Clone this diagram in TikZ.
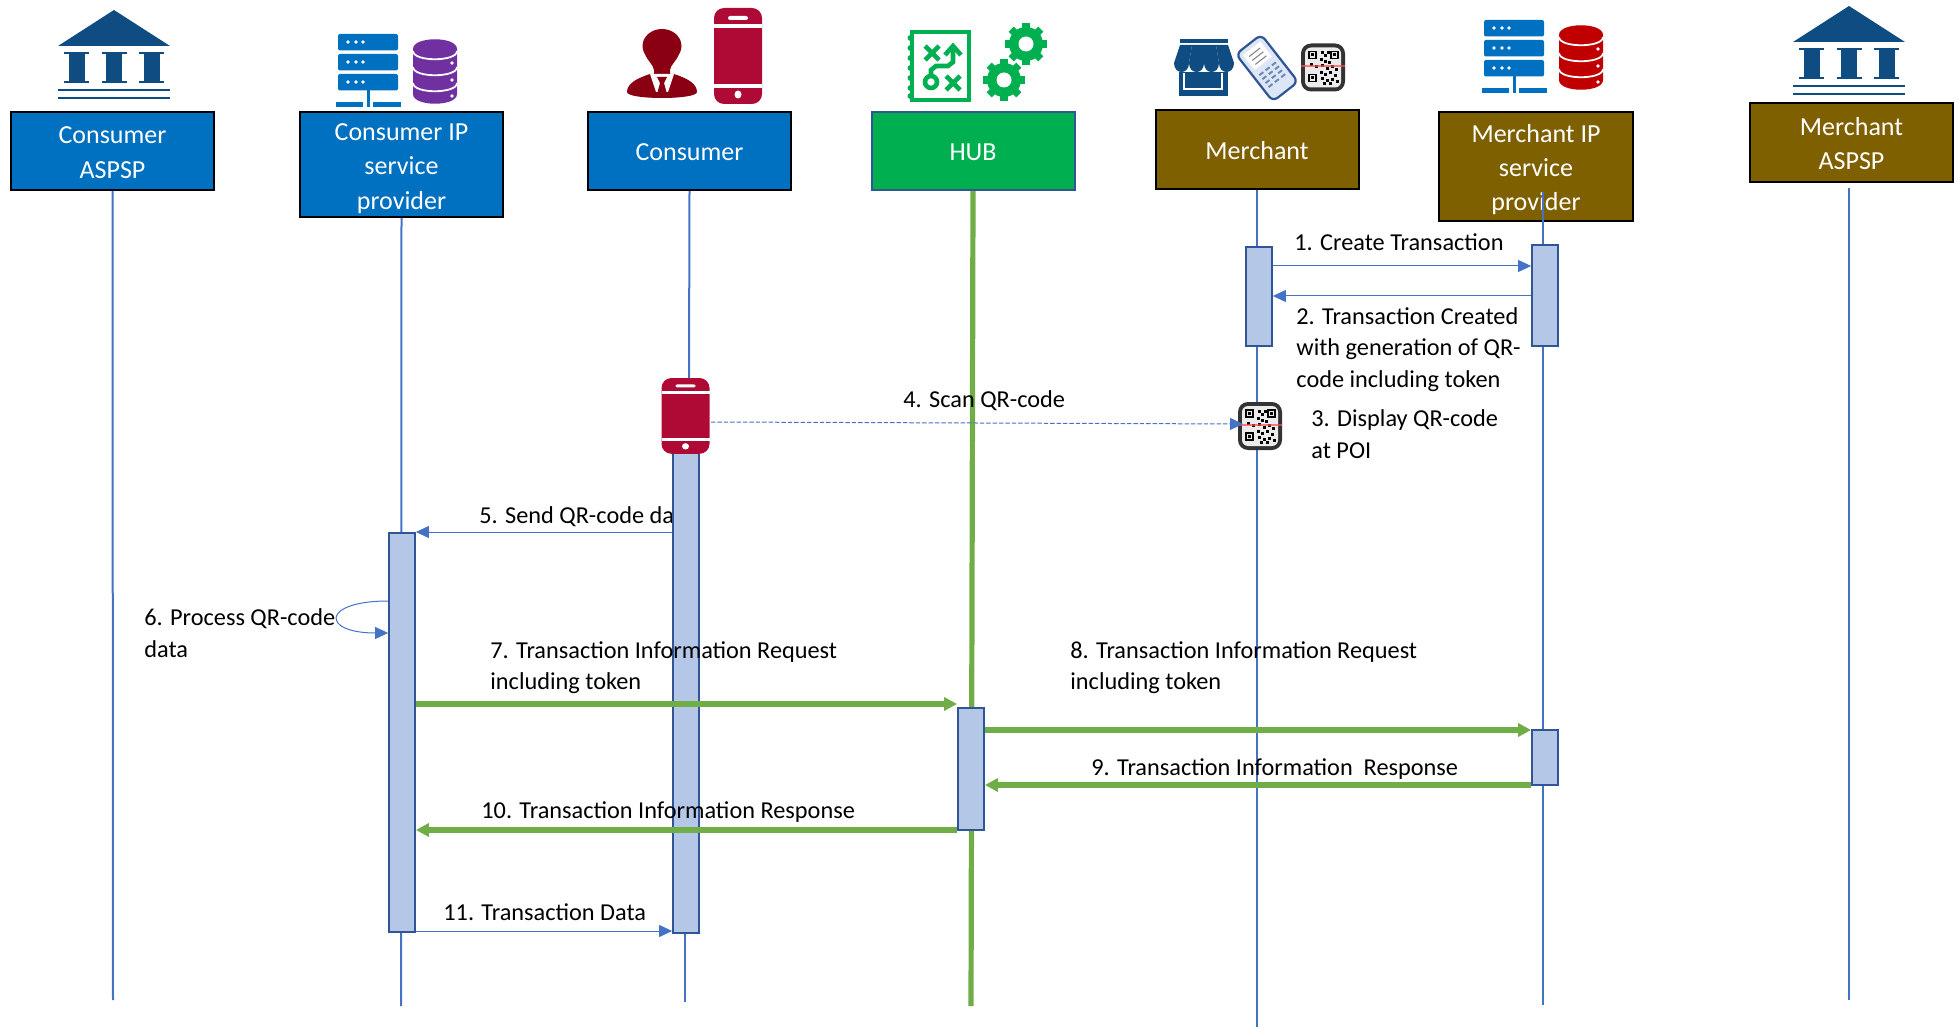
\documentclass[tikz,border=0pt]{standalone}
\usepackage{fontspec}
\setmainfont{Carlito}
\usetikzlibrary{arrows.meta}
\definecolor{boxblue}{HTML}{0070C0}
\definecolor{boxgreen}{HTML}{00B050}
\definecolor{boxbrown}{HTML}{7F6000}
\definecolor{linkblue}{HTML}{4472C4}
\definecolor{linkgreen}{HTML}{70AD47}
\definecolor{barfill}{HTML}{B4C7E7}
\definecolor{bardraw}{HTML}{2F5597}
\definecolor{bankblue}{HTML}{0F4C81}
\definecolor{phonered}{HTML}{AE0A35}
\definecolor{personred}{HTML}{8A0012}
\definecolor{dbpurple}{HTML}{7030A0}
\definecolor{dbred}{HTML}{C00000}
\tikzset{
	party/.style={rectangle,draw=black,line width=1pt,minimum width=101.5pt,inner ysep=0pt,text=white,align=center,
		font=\fontsize{13}{17.2}\selectfont},
	lifeline/.style={draw=linkblue,line width=1pt},
	hubline/.style={draw=linkgreen,line width=2.6pt},
	activation/.style={rectangle,draw=bardraw,line width=.9pt,fill=barfill,minimum width=13pt},
	msgthin/.style={draw=linkblue,line width=.5pt,-{Triangle[length=6.5pt,width=6pt]}},
	msgthick/.style={draw=linkgreen,line width=2.6pt,-{Triangle[length=6.5pt,width=6.5pt]}},
	msgtext/.style={anchor=west,align=left,inner sep=0pt,font=\fontsize{12.15}{15.7}\selectfont},
	pics/bank/.style={code={
		\fill[bankblue] (-56,36) -- (0,0) -- (56,36) -- cycle;
		\foreach \cx in {-37.5,0,37.5}{
			\fill[bankblue] (\cx-12.5,42) rectangle (\cx+12.5,44);
			\fill[bankblue] (\cx-8,44) rectangle (\cx+8,71);
			\fill[bankblue] (\cx-12.5,71) rectangle (\cx+12.5,73);
		}
		\fill[bankblue] (-56,79) rectangle (56,81);
		\fill[bankblue] (-56,87) rectangle (56,89);
	}},
	pics/serverdb/.style={code={
		\foreach \uy in {0,20,40}{
			\fill[boxblue,rounded corners=1pt] (0,\uy) rectangle (60,\uy+16.5);
			\foreach \ux in {10,18,25}
				\fill[white] (\ux,\uy+8) circle (1.8);
		}
		\fill[boxblue] (28.5,56) rectangle (31.5,73);
		\fill[boxblue] (-2,68) rectangle (25,73);
		\fill[boxblue] (35,68) rectangle (63,73);
		\fill[#1] (75,15) -- (75,60) .. controls (75,73) and (119,73) .. (119,60) -- (119,15)
			.. controls (119,2) and (75,2) .. (75,15) -- cycle;
		\draw[white,line width=.9pt] (75,17) .. controls (75,28) and (119,28) .. (119,17);
		\draw[white,line width=.9pt] (75,33) .. controls (75,44) and (119,44) .. (119,33);
		\draw[white,line width=.9pt] (75,49) .. controls (75,60) and (119,60) .. (119,49);
		\foreach \uy in {29,46,62}
			\fill[white] (114,\uy) circle (1.8);
	}},
	pics/phone/.style={code={
		\fill[phonered,rounded corners=5pt] (-24,0) rectangle (24,96);
		\fill[white] (-24,16) rectangle (24,20);
		\fill[white] (-24,76) rectangle (24,80);
		\fill[white,rounded corners=1pt] (-10,8) rectangle (10,12);
		\fill[white] (0,86.5) ellipse (3.5 and 4);
	}},
	pics/person/.style={code={
		\fill[personred] (0,16) ellipse (19.5 and 17);
		\fill[personred] (-17,24) .. controls (-14,32) and (-9,34) .. (-8,40) -- (-8,46) -- (8,46)
			-- (8,40) .. controls (9,34) and (14,32) .. (17,24) -- cycle;
		\fill[personred] (-12,44) .. controls (-24,48) and (-35,53) .. (-35,62)
			.. controls (-35,70) and (35,70) .. (35,62) .. controls (35,53) and (24,48) .. (12,44) -- cycle;
		\fill[white] (-12,44) -- (12,44) -- (6,62) -- (-6,62) -- cycle;
		\fill[personred] (-5,47) -- (5,47) -- (2,53) -- (5,64) -- (-5,64) -- (-2,53) -- cycle;
	}},
	pics/planner/.style={code={
		\draw[boxgreen,line width=2.2pt] (0,0) rectangle (57,68);
		\foreach \uy in {6,16,26,36,46,56,64}
			\fill[boxgreen] (-1.5,\uy) circle (3);
		\draw[boxgreen,line width=2.3pt] (13,14) -- (27,28) (27,14) -- (13,28);
		\draw[boxgreen,line width=2.3pt] (34,44) -- (48,58) (48,44) -- (34,58);
		\draw[boxgreen,line width=2.3pt] (19,50) circle (6);
		\draw[boxgreen,line width=2.3pt] (19,44) -- (19,38) -- (24,34) -- (36,34) -- (41,30) -- (41,16);
		\draw[boxgreen,line width=2.3pt] (33,23) -- (41,14) -- (49,23);
	}},
	pics/gear/.style={code={
		\fill[boxgreen] (0,0) circle (17);
		\foreach \ang in {0,45,...,315}
			\draw[boxgreen,line width=3.6pt] (0,0) -- (\ang:21);
		\fill[white] (0,0) circle (7.5);
	}},
	pics/shop/.style={code={
		\fill[bankblue] (6,0) rectangle (54,4);
		\foreach \ta/\tb/\tc/\td in {6/0/15/18,18/15/30/30,30/30/45/42,42/45/60/54}
			\fill[bankblue] (\ta,6) -- (\tb,24) .. controls (\tb,36) and (\tc,36) .. (\tc,24) -- (\td,6) -- cycle;
		\fill[bankblue] (5,33) rectangle (54,57);
		\draw[white,line width=1pt] (10,34) -- (10,50) -- (48,50) -- (48,34);
	}},
	pics/terminal/.style={code={
		\draw[bardraw,fill=barfill!45,rounded corners=3pt,line width=1.1pt] (-16,-30) rectangle (16,30);
		\fill[white] (-11,-25) rectangle (11,-6);
		\foreach \uy in {-20,-15,-10}
			\draw[gray,line width=.5pt] (-7,\uy) -- (7,\uy);
		\foreach \ux in {-8,0,8}
			\foreach \uy in {0,5,10,15}
				\fill[bardraw!70] (\ux-2.5,\uy) rectangle (\ux+2.5,\uy+2);
	}},
	pics/qrcode/.style={code={
		\fill[black!80,rounded corners=5pt] (-22,-24) rectangle (22,24);
		\fill[black!8,rounded corners=3pt] (-18,-20) rectangle (18,20);
		\foreach \ux/\uy in {-13/-15,9/-15,-13/8}{
			\draw[black,line width=.8pt] (\ux-1,\uy-1) rectangle (\ux+6,\uy+6);
			\fill[black] (\ux+1,\uy+1) rectangle (\ux+4,\uy+4);
		}
		\foreach \ux/\uy in {-2/-16,1/-13,4/-16,-3/-9,1/-7,5/-6,-13/-4,-8/-2,-2/-3,3/0,8/-2,12/1,-3/4,1/6,6/4,11/7,-2/10,3/12,8/11,13/13,0/15,6/15}
			\fill[black] (\ux,\uy) rectangle (\ux+3,\uy+3);
		\fill[red!70!white,opacity=.7] (-22,-2) rectangle (22,0);
	}}
}
\begin{document}
\begin{tikzpicture}[x=.5pt,y=-.5pt]
\useasboundingbox (0,0) rectangle (1959,1027);
\node[party,fill=boxblue,minimum height=39pt] (conaspsp) at (112.5,151) {\rule{0pt}{10pt}Consumer\\ASPSP};
\node[party,fill=boxblue,minimum height=52.5pt] (conip) at (401.5,164.5) {\rule{0pt}{12.4pt}Consumer IP\\service\\provider};
\node[party,fill=boxblue,minimum height=39pt] (consumer) at (689.5,151) {\rule{0pt}{10pt}Consumer};
\node[party,fill=boxgreen,draw=bardraw,minimum height=39pt] (hub) at (973,151) {\rule{0pt}{10pt}HUB};
\node[party,fill=boxbrown,minimum height=39.5pt] (merchant) at (1257,149.5) {\rule{0pt}{10pt}Merchant};
\node[party,fill=boxbrown,minimum width=97pt,minimum height=54.5pt] (merip) at (1536,166.5) {\rule{0pt}{12pt}Merchant IP\\service\\provider};
\node[party,fill=boxbrown,minimum height=39.5pt] (meraspsp) at (1851.5,142.5) {\rule{0pt}{10pt}Merchant\\ASPSP};

\coordinate (endconaspsp) at (113,1000);
\coordinate (endconip) at (401,1006);
\coordinate (endcon) at (685,1002);
\coordinate (endhub) at (971,1006);
\coordinate (endmer) at (1257,1027);
\coordinate (startmerip) at (1543,192);
\coordinate (endmerip) at (1543,1005);
\coordinate (startmeraspsp) at (1849,188);
\coordinate (endmeraspsp) at (1849,1000);

\node[msgtext] (lab5) at (479,516.5) {5. Send QR-code data};

\draw[lifeline] (conaspsp.south) -- (endconaspsp);
\draw[lifeline] (conip.south) -- (endconip);
\draw[lifeline] (consumer.south) -- (689,378);
\draw[lifeline] (685,933) -- (endcon);
\draw[hubline] (hub.south) -- (endhub);
\draw[lifeline] (merchant.south) -- (endmer);
\draw[lifeline] (startmerip) -- (endmerip);
\draw[lifeline] (startmeraspsp) -- (endmeraspsp);

\node[activation,minimum height=49.5pt] (barmer) at (1259,296.5) {};
\node[activation,minimum height=50.5pt] (barmerip) at (1545,295.5) {};
\node[activation,minimum height=249pt] (barcon) at (686,684) {};
\node[activation,minimum height=199.5pt] (barconip) at (402,732.5) {};
\node[activation,minimum height=61pt] (barhub) at (971,769) {};
\node[activation,minimum height=27.5pt] (barmerip2) at (1545,757.5) {};

\pic at (114,10) {bank};
\pic at (1849,6) {bank};
\pic at (338,34) {serverdb=dbpurple};
\pic at (1484,20) {serverdb=dbred};
\pic at (738,8) {phone};
\pic at (662,30) {person};
\pic at (912,32) {planner};
\pic at (1026,44) {gear};
\pic at (1004,80) {gear};
\pic at (1174,39) {shop};
\pic[rotate=38] at (1267,68) {terminal};
\pic at (1323,67.5) {qrcode};
\pic at (1260,426) {qrcode};
\pic[yscale=.79] at (685.5,378) {phone};

\coordinate (m1) at (0,266);
\coordinate (m2) at (0,296);
\coordinate (scanphone) at (711,422);
\coordinate (scanqr) at (1243,424);
\coordinate (m5) at (0,532);
\coordinate (loopa) at (0,601);
\coordinate (loopb) at (0,633);
\coordinate (m7) at (0,704);
\coordinate (m8) at (0,730);
\coordinate (m9) at (0,785);
\coordinate (m10) at (0,830);
\coordinate (m11) at (0,931);

\draw[msgthin] (barmer.east |- m1) -- (barmerip.west |- m1);
\draw[msgthin] (barmerip.west |- m2) -- (barmer.east |- m2);
\draw[msgthin,dash pattern=on 2.2pt off 1pt] (scanphone) -- (scanqr);
\draw[msgthin] (barcon.west |- m5) -- (barconip.east |- m5);
\draw[msgthin] (barconip.west |- loopa) .. controls (321,601) and (321,633) .. (barconip.west |- loopb);
\draw[msgthick] (barconip.east |- m7) -- (barhub.west |- m7);
\draw[msgthick] (barhub.east |- m8) -- (barmerip2.west |- m8);
\draw[msgthick] (barmerip2.west |- m9) -- (barhub.east |- m9);
\draw[msgthick] (barhub.west |- m10) -- (barconip.east |- m10);
\draw[msgthin] (barconip.east |- m11) -- (barcon.west |- m11);

\node[msgtext] (lab1) at (1294,242) {1. Create Transaction};
\node[msgtext] (lab2) at (1296,349.5) {2. Transaction Created\\with generation of QR-\\code including token};
\node[msgtext] (lab3) at (1311,434) {3. Display QR-code\\at POI};
\node[msgtext] (lab4) at (903,400.5) {4. Scan QR-code};
\node[msgtext] (lab6) at (144,633) {6. Process QR-code\\data};
\node[msgtext] (lab7) at (490,667.5) {7. Transaction Information Request\\including token};
\node[msgtext] (lab8) at (1070,667.5) {8. Transaction Information Request\\including token};
\node[msgtext] (lab9) at (1091,769.5) {9. Transaction Information~ Response};
\node[msgtext] (lab10) at (481,812.5) {10. Transaction Information Response};
\node[msgtext] (lab11) at (443,912) {11. Transaction Data};
\end{tikzpicture}
\end{document}
